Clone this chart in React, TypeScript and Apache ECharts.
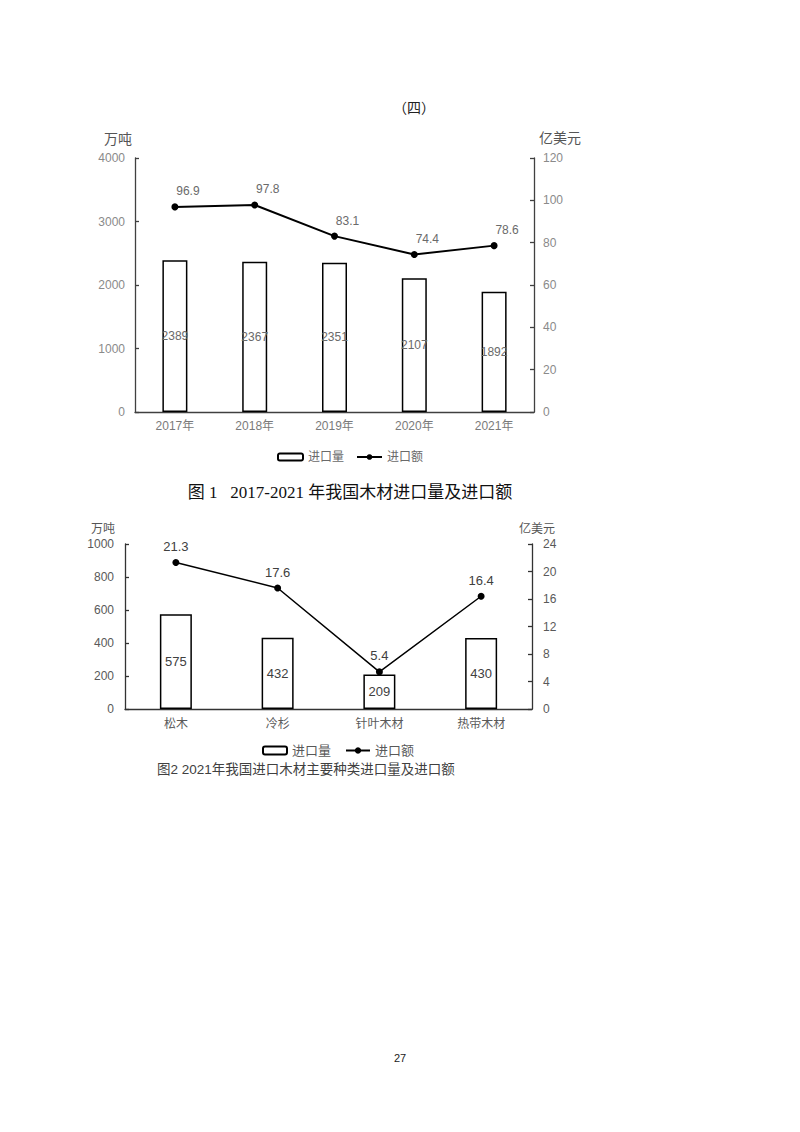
import React, { useEffect, useRef } from "react";
import * as echarts from "echarts";

const years = ["2017年", "2018年", "2019年", "2020年", "2021年"];
const volume1 = [2389, 2367, 2351, 2107, 1892];
const value1 = [96.9, 97.8, 83.1, 74.4, 78.6];

const kinds = ["松木", "冷杉", "针叶木材", "热带木材"];
const volume2 = [575, 432, 209, 430];
const value2 = [21.3, 17.6, 5.4, 16.4];

const SANS = "'Liberation Sans', 'Noto Sans CJK SC', sans-serif";
const SERIF = "'Liberation Serif', 'Noto Sans CJK SC', serif";
const CJK = "'Noto Sans CJK SC', sans-serif";

export default function App() {
  const ref = useRef<HTMLDivElement>(null);
  useEffect(() => {
    document.body.style.margin = "0";
    const chart = echarts.init(ref.current!, null, { renderer: "svg" });
    const axisLabel = (color: string, margin: number, size = 12) => ({
      color,
      fontSize: size,
      fontFamily: SANS,
      margin,
      formatter: (v: any) => String(v),
    });
    const yAxisBase = (gridIndex: number, max: number, interval: number, pos: "left" | "right", lc: string, tc: string, margin: number) => ({
      type: "value",
      gridIndex,
      position: pos,
      min: 0,
      max,
      interval,
      splitLine: { show: false },
      axisLine: { show: true, lineStyle: { color: lc, width: 1.3 } },
      axisTick: { show: true, inside: true, length: 4, lineStyle: { color: lc, width: 1.3 } },
      axisLabel: axisLabel(tc, margin),
    });
    const option: any = {
      animation: false,
      backgroundColor: "#fff",
      grid: [
        { left: 135, right: 266, top: 158, height: 254 },
        { left: 125, right: 268, top: 544, height: 165 },
      ],
      xAxis: [
        {
          type: "category",
          gridIndex: 0,
          data: years,
          axisLine: { lineStyle: { color: "#404040", width: 1.3 } },
          axisTick: { show: false },
          axisLabel: axisLabel("#7a7a7a", 8),
        },
        {
          type: "category",
          gridIndex: 1,
          data: kinds,
          axisLine: { lineStyle: { color: "#333", width: 1.3 } },
          axisTick: { show: false },
          axisLabel: axisLabel("#595959", 9),
        },
      ],
      yAxis: [
        yAxisBase(0, 4000, 1000, "left", "#404040", "#8a8a8a", 10),
        yAxisBase(0, 120, 20, "right", "#404040", "#8a8a8a", 9),
        yAxisBase(1, 1000, 200, "left", "#333", "#595959", 11),
        yAxisBase(1, 24, 4, "right", "#333", "#595959", 11),
      ],
      legend: [
        {
          left: 272,
          top: 446,
          itemWidth: 25,
          itemHeight: 7,
          itemGap: 12,
          textStyle: { color: "#6a6a6a", fontSize: 12, fontFamily: SANS },
          data: ["进口量", "进口额"],
        },
        {
          left: 257,
          top: 739,
          itemWidth: 24,
          itemHeight: 8,
          itemGap: 14,
          textStyle: { color: "#595959", fontSize: 13, fontFamily: SANS },
          data: ["进口量", "进口额"],
        },
      ],
      series: [
        {
          name: "进口量",
          type: "bar",
          xAxisIndex: 0,
          yAxisIndex: 0,
          data: volume1,
          barWidth: 25,
          itemStyle: { color: "#fff", borderColor: "#000", borderWidth: 1.5 },
          label: { show: true, position: "inside", color: "#6a6a6a", fontSize: 12, fontFamily: SANS },
        },
        {
          name: "进口额",
          type: "line",
          xAxisIndex: 0,
          yAxisIndex: 1,
          data: value1,
          symbol: "circle",
          symbolSize: 7,
          itemStyle: { color: "#000" },
          lineStyle: { color: "#000", width: 2 },
          label: { show: true, position: "top", offset: [13, -1], color: "#6a6a6a", fontSize: 12, fontFamily: SANS },
        },
        {
          name: "进口量",
          type: "bar",
          xAxisIndex: 1,
          yAxisIndex: 2,
          data: volume2,
          barWidth: 32,
          itemStyle: { color: "#fff", borderColor: "#000", borderWidth: 1.5 },
          label: { show: true, position: "inside", color: "#404040", fontSize: 13, fontFamily: SANS },
        },
        {
          name: "进口额",
          type: "line",
          xAxisIndex: 1,
          yAxisIndex: 3,
          data: value2,
          symbol: "circle",
          symbolSize: 7,
          itemStyle: { color: "#000" },
          lineStyle: { color: "#000", width: 1.5 },
          label: { show: true, position: "top", distance: 6, color: "#404040", fontSize: 13, fontFamily: SANS },
        },
      ],
      graphic: [
        { type: "text", x: 414, y: 107, style: { text: "（四）", font: `14px ${CJK}`, fill: "#222", align: "center", verticalAlign: "middle" } },
        { type: "text", x: 118, y: 139, style: { text: "万吨", font: `14px ${SANS}`, fill: "#555", align: "center", verticalAlign: "middle" } },
        { type: "text", x: 560, y: 138, style: { text: "亿美元", font: `14px ${SANS}`, fill: "#555", align: "center", verticalAlign: "middle" } },
        { type: "text", x: 350, y: 492, style: { text: "图 1   2017-2021 年我国木材进口量及进口额", font: `17px ${SERIF}`, fill: "#111", align: "center", verticalAlign: "middle" } },
        { type: "text", x: 103, y: 529, style: { text: "万吨", font: `12px ${SANS}`, fill: "#555", align: "center", verticalAlign: "middle" } },
        { type: "text", x: 537, y: 529, style: { text: "亿美元", font: `12px ${SANS}`, fill: "#555", align: "center", verticalAlign: "middle" } },
        { type: "text", x: 157, y: 769, style: { text: "图2 2021年我国进口木材主要种类进口量及进口额", font: `13.5px ${SANS}`, fill: "#404040", align: "left", verticalAlign: "middle" } },
        { type: "text", x: 400, y: 1058, style: { text: "27", font: `11px ${SANS}`, fill: "#222", align: "center", verticalAlign: "middle" } },
      ],
    };
    chart.setOption(option);
    return () => chart.dispose();
  }, []);
  return <div ref={ref} style={{ width: 800, height: 1132 }} />;
}
